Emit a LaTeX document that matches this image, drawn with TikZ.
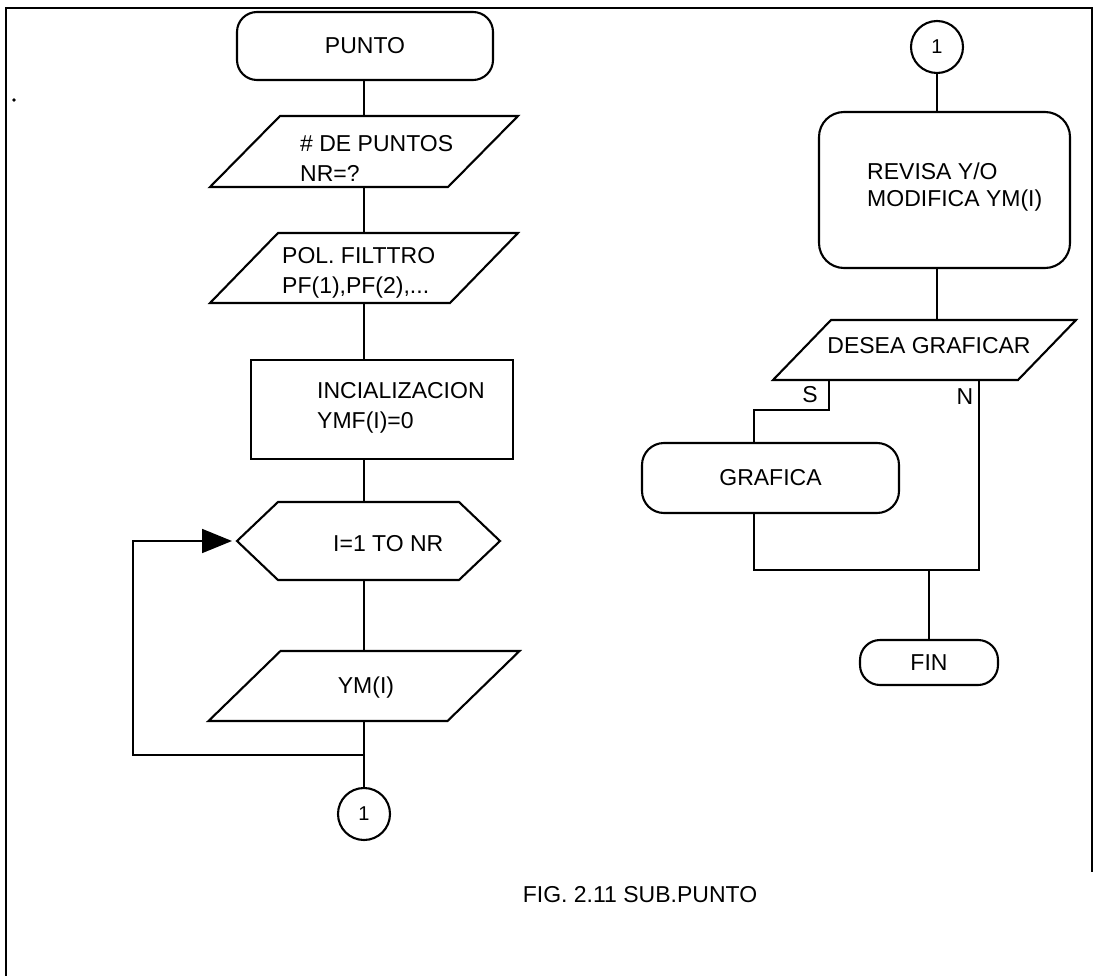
\documentclass[tikz,border=0pt]{standalone}
\usepackage{fontspec}
\setmainfont{Liberation Sans}
\usetikzlibrary{arrows.meta,calc}
\newcommand\drawpara[2]{\draw[line width=2.1pt] ([xshift=#2]#1.north west) -- ([xshift=#2]#1.north east) -- ([xshift=-#2]#1.south east) -- ([xshift=-#2]#1.south west) -- cycle;}
\begin{document}
\begin{tikzpicture}[x=1pt,y=-1pt,
  ln/.style={line width=1.8pt},
  shp/.style={draw, line width=2.1pt, inner sep=0pt, outer sep=0pt},
  ghost/.style={inner sep=0pt, outer sep=0pt},
  txt/.style={inner sep=0pt, font=\fontsize{23}{30}\selectfont, align=left},
  txtr/.style={inner sep=0pt, font=\fontsize{23}{27}\selectfont, align=left},
  conn/.style={shp, circle, minimum size=52pt, font=\fontsize{20}{24}\selectfont},
  ]
\useasboundingbox (0,0) rectangle (1094,976);
% frame
\draw[line width=2.2pt] (6,976) -- (6,8) -- (1092,8) -- (1092,872);
\fill (14,100) circle (1.8pt);

% ---------- left column ----------
\node[shp, rounded corners=20pt, minimum width=256pt, minimum height=68pt, font=\fontsize{23}{28}\selectfont] (punto) at (365,46) {PUNTO};

\node[ghost, minimum width=238pt, minimum height=71pt] (p1) at (364,151.5) {};
\drawpara{p1}{35}
\node[txt, anchor=west] (p1t) at (300,158) {\# DE PUNTOS\\NR=?};

\node[ghost, minimum width=240pt, minimum height=70pt] (p2) at (364,268) {};
\drawpara{p2}{34}
\node[txt, anchor=west] (p2t) at (282,273) {POL. FILTTRO\\PF(1),PF(2),...};

\node[shp, minimum width=262pt, minimum height=99pt] (init) at (382,409.5) {};
\node[txt, anchor=west] (initt) at (317,408) {INCIALIZACION\\YMF(I)=0};

\node[ghost, minimum width=263pt, minimum height=78pt] (hex) at (368.5,541) {};
\draw[line width=2.1pt] (hex.west) -- ([xshift=41pt]hex.north west) -- ([xshift=-41pt]hex.north east) -- (hex.east) -- ([xshift=-41pt]hex.south east) -- ([xshift=41pt]hex.south west) -- cycle;
\node[txt, anchor=west] (hext) at (333,544) {I=1 TO NR};

\node[ghost, minimum width=239pt, minimum height=70pt] (p3) at (364,686) {};
\drawpara{p3}{36}
\node[txt] (p3t) at (366,688) {YM(I)};

\node[conn] (c1) at (364,814) {1};

% left connectors
\draw[ln] (punto.south -| p1.north) -- (p1.north);
\draw[ln] (p1.south) -- (p2.north);
\draw[ln] (p2.south) -- (p2.south |- init.north);
\draw[ln] (p2.south |- init.south) -- (p2.south |- hex.north);
\draw[ln] (p2.south |- hex.south) -- (p3.north);
\draw[ln] (p3.south) -- (c1.north);
\coordinate (j) at (364,755);
\coordinate (lk1) at (133,755);
\coordinate (lk2) at (133,541);
\draw[ln, -{Triangle[length=30pt,width=24pt]}, shorten >=5pt] (j) -- (lk1) -- (lk2) -- (hex.west);

% ---------- right column ----------
\node[conn] (rc1) at (937,47) {1};
\node[shp, rounded corners=25pt, minimum width=251pt, minimum height=156pt] (rev) at (944.5,190) {};
\node[txtr, anchor=west] (revt) at (867,187) {REVISA Y/O\\MODIFICA YM(I)};

\node[ghost, minimum width=245pt, minimum height=60pt] (des) at (924.5,350) {};
\drawpara{des}{29}
\node[txt] (dest) at (929,346) {DESEA GRAFICAR};

\node[shp, rounded corners=22pt, minimum width=257pt, minimum height=70pt, font=\fontsize{23}{28}\selectfont] (graf) at (770.5,478) {GRAFICA\hspace{20pt}};
\node[shp, rounded corners=20pt, minimum width=138pt, minimum height=45pt, font=\fontsize{23}{28}\selectfont] (fin) at (929,662.5) {FIN};

\draw[ln] (rc1.south) -- (rc1.south |- rev.north);
\draw[ln] (rc1.south |- rev.south) -- (rc1.south |- des.north);

\coordinate (sa) at (829,380);
\coordinate (sb) at (829,410);
\coordinate (sc) at (754,410);
\draw[ln] (sa) -- (sb) -- (sc) -- (sc |- graf.north);
\node[txt] (slab) at (810,395) {S};

\coordinate (na) at (979,380);
\coordinate (nb) at (979,570);
\coordinate (gj) at (754,570);
\draw[ln] (na) -- (nb) -- (gj) -- (gj |- graf.south);
\node[txt] (nlab) at (965,397) {N};
\draw[ln] (fin.north |- nb) -- (fin.north);

% caption
\node[txt] (cap) at (640,895) {FIG. 2.11 SUB.PUNTO};
\end{tikzpicture}
\end{document}
